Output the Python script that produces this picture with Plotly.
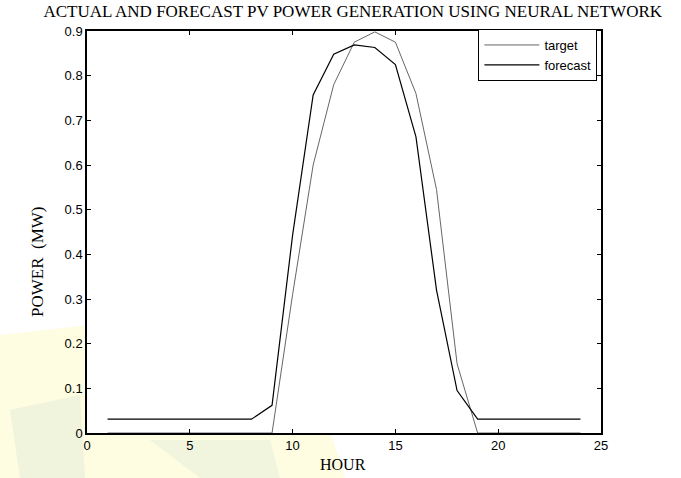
import plotly.graph_objects as go

hours = list(range(1, 25))
target = [0, 0, 0, 0, 0, 0, 0, 0, 0, 0.31, 0.60, 0.78, 0.875, 0.898, 0.875, 0.76, 0.545, 0.155,
          0, 0, 0, 0, 0, 0]
forecast = [0.031, 0.031, 0.031, 0.031, 0.031, 0.031, 0.031, 0.031, 0.062, 0.443, 0.757, 0.848,
            0.869, 0.863, 0.825, 0.663, 0.32, 0.095, 0.031, 0.031, 0.031, 0.031, 0.031, 0.031]
x_ticks = [0, 5, 10, 15, 20, 25]
y_ticks = [0, 0.1, 0.2, 0.3, 0.4, 0.5, 0.6, 0.7, 0.8, 0.9]
y_tick_text = ["0", "0.1", "0.2", "0.3", "0.4", "0.5", "0.6", "0.7", "0.8", "0.9"]

W, H = 681, 478
L, R, T, B = 87, 80, 31, 45
PW, PH = W - L - R, H - T - B


def px(x):
    return (x - L) / PW


def py(y):
    return (H - B - y) / PH


def poly(points):
    return "M " + " L ".join(f"{px(a):.4f},{py(b):.4f}" for a, b in points) + " Z"


shapes = [
    dict(type="path", xref="paper", yref="paper", layer="below", line=dict(width=0),
         fillcolor="rgba(253,251,215,0.75)",
         path=poly([(0, 335), (90, 325), (180, 400), (330, 430), (345, 478), (0, 478)])),
    dict(type="path", xref="paper", yref="paper", layer="below", line=dict(width=0),
         fillcolor="rgba(215,228,215,0.35)",
         path=poly([(10, 410), (80, 395), (85, 478), (20, 478)])),
    dict(type="path", xref="paper", yref="paper", layer="below", line=dict(width=0),
         fillcolor="rgba(215,228,215,0.30)",
         path=poly([(150, 440), (270, 440), (280, 478), (200, 478)])),
    dict(type="rect", xref="paper", yref="paper", layer="below", line=dict(width=0),
         fillcolor="white", x0=0, x1=1, y0=0, y1=1),
]

fig = go.Figure()
fig.add_trace(go.Scatter(x=hours, y=target, mode="lines", name="target",
                         line=dict(color="#555555", width=0.9)))
fig.add_trace(go.Scatter(x=hours, y=forecast, mode="lines", name="forecast",
                         line=dict(color="#000000", width=1.2)))

axis_common = dict(showgrid=False, zeroline=False, showline=True, linecolor="black", linewidth=1.5,
                   mirror="allticks", ticks="inside", ticklen=4, tickcolor="black", tickwidth=1,
                   automargin=False,
                   tickfont=dict(family="Liberation Sans, Arial", size=13, color="black"))
serif = "Liberation Serif, Times New Roman"

fig.update_layout(
    width=W, height=H,
    margin=dict(l=L, r=R, t=T, b=B),
    paper_bgcolor="white", plot_bgcolor="rgba(0,0,0,0)",
    shapes=shapes,
    title=dict(text="ACTUAL AND FORECAST PV POWER GENERATION USING NEURAL NETWORK",
               x=0.518, xanchor="center", y=0.99, yanchor="top",
               font=dict(family=serif, size=17, color="black")),
    xaxis=dict(range=[0, 25], tickvals=x_ticks, **axis_common),
    yaxis=dict(range=[0, 0.9], tickvals=y_ticks, ticktext=y_tick_text, **axis_common),
    annotations=[
        dict(text="HOUR", xref="paper", yref="paper", x=px(343), y=py(464),
             xanchor="center", yanchor="middle", showarrow=False,
             font=dict(family=serif, size=16, color="black")),
        dict(text="POWER  (MW)", xref="paper", yref="paper", x=px(37), y=py(262),
             xanchor="center", yanchor="middle", showarrow=False, textangle=-90,
             font=dict(family=serif, size=17, color="black")),
    ],
    legend=dict(x=0.993, y=1.005, xanchor="right", yanchor="top", bgcolor="white",
                bordercolor="black", borderwidth=1, itemwidth=55, tracegroupgap=0,
                font=dict(family="Liberation Sans, Arial", size=13, color="black")),
    showlegend=True,
)

fig.write_html("out.html")
